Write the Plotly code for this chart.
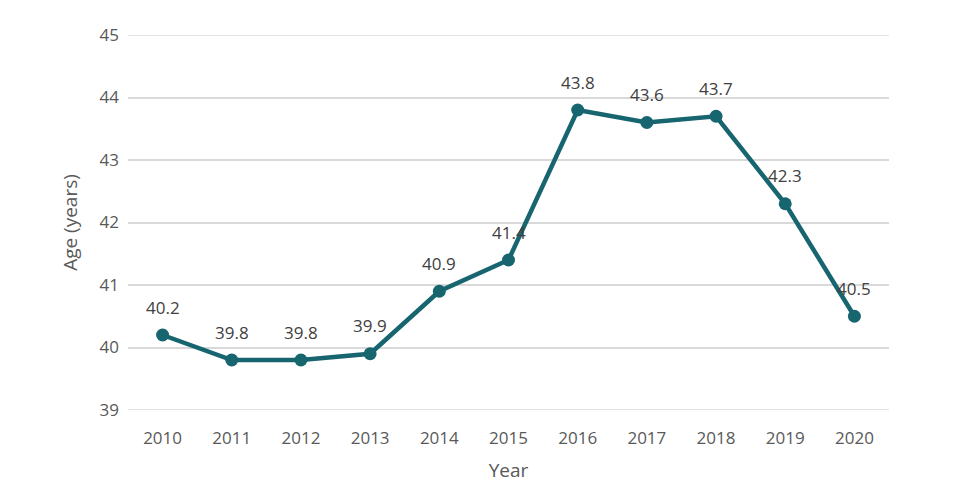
import plotly.graph_objects as go

years = ["2010", "2011", "2012", "2013", "2014", "2015", "2016", "2017", "2018", "2019", "2020"]
ages = [40.2, 39.8, 39.8, 39.9, 40.9, 41.4, 43.8, 43.6, 43.7, 42.3, 40.5]
labels = [f"{v:.1f}" for v in ages]
y_ticks = [39, 40, 41, 42, 43, 44, 45]

color = "#17656f"
font = "Open Sans"
grid = "#d9d9d9"

fig = go.Figure(go.Scatter(
    x=years, y=ages, mode="lines+markers",
    line=dict(color=color, width=4.5),
    marker=dict(color=color, size=13),
    cliponaxis=False,
))

for i, (v, t) in enumerate(zip(ages, labels)):
    fig.add_annotation(x=i, y=v, xref="x", yref="y", text=t, showarrow=False, yshift=28,
                       font=dict(family=font, size=17, color="#404040"))

for t in (y_ticks[0], y_ticks[-1]):
    fig.add_hline(y=t, line=dict(color=grid, width=1.5), layer="below")

fig.update_layout(
    width=953, height=475,
    margin=dict(l=120, r=72, t=27, b=73, autoexpand=False),
    paper_bgcolor="white", plot_bgcolor="white",
    showlegend=False,
    font=dict(family=font, size=17, color="#595959"),
    xaxis=dict(type="category", range=[-0.5, 10.5], showgrid=False, showline=False,
               zeroline=False, ticks="", ticklabelstandoff=16,
               title=dict(text="Year", standoff=16, font=dict(size=19)),
               tickfont=dict(size=17, color="#595959"), automargin=False),
    yaxis=dict(range=[39, 45], tickvals=y_ticks, showgrid=True, gridcolor=grid,
               gridwidth=1.5, zeroline=False, showline=False, ticks="", ticklabelstandoff=8,
               title=dict(text="Age (years)", standoff=16, font=dict(size=19)),
               tickfont=dict(size=17, color="#595959"), automargin=False),
)

fig.write_html("out.html")
